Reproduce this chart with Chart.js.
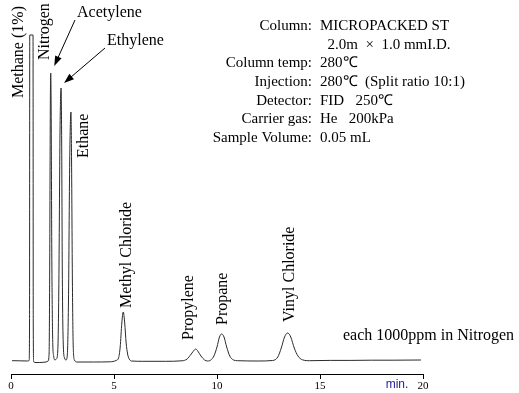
<!DOCTYPE html>
<html>
<head>
<meta charset="utf-8">
<script src="https://cdn.jsdelivr.net/npm/chart.js@4.4.1/dist/chart.umd.min.js"></script>
<style>
html, body { margin: 0; padding: 0; background: #fff; }
#wrap { width: 519px; height: 393px; }
</style>
</head>
<body>
<div id="wrap"><canvas id="chromChart" width="519" height="393"></canvas></div>
<script>
// chromatogram trace (time in min, response above baseline)
const traceTime = [
    0.05, 0.40, 0.80, 0.88, 0.90, 0.91, 1.07, 1.08, 1.10, 1.15, 1.40, 1.70,
    1.80, 1.85, 1.88, 1.91, 1.93, 1.95, 1.98, 2.02, 2.07, 2.14,
    2.20, 2.27, 2.32, 2.38, 2.43, 2.46, 2.49, 2.54, 2.60, 2.67,
    2.73, 2.79, 2.85, 2.91, 2.94, 2.98, 3.02, 3.08, 3.20, 4.00, 4.80,
    5.10, 5.22, 5.30, 5.38, 5.45, 5.52, 5.59, 5.66, 5.74, 5.85, 6.40, 7.50,
    8.30, 8.55, 8.75, 8.92, 8.97, 9.05, 9.22, 9.40, 9.55,
    9.70, 9.85, 10.00, 10.12, 10.23, 10.34, 10.47, 10.62, 10.80, 11.00, 12.00,
    12.70, 12.95, 13.12, 13.28, 13.43, 13.58, 13.75, 13.93, 14.15, 14.50,
    15.50, 16.50, 17.50, 18.50, 19.90
];
const traceSignal = [
    0.3, 0.2, 0.0, 0.5, 40, 326, 326, 40, 0, -1.5, -1.5, -1.0,
    0, 8, 100, 260, 288, 250, 110, 25, 5, 1,
    2, 10, 70, 230, 273, 220, 90, 15, 3, 1,
    5, 60, 200, 249, 200, 80, 15, 1, -1.0, -1.0, -0.8,
    0.5, 3, 14, 38, 49, 38, 18, 7, 2, 0, -0.3, -0.3,
    0.2, 2, 7, 11.5, 12, 10.5, 5, 1, 0,
    1, 5, 14, 24, 27, 24, 14, 5, 1, 0.3, 0,
    0.5, 4, 13, 24, 28, 24, 13, 5, 1.2, 0.3,
    0.6, 0.6, 0.8, 0.8, 1.0
];

const peakNames = ['Methane (1%)', 'Nitrogen', 'Acetylene', 'Ethylene', 'Ethane',
    'Methyl Chloride', 'Propylene', 'Propane', 'Vinyl Chloride'];
const peakTimes = [1.0, 1.93, 1.93, 2.43, 2.91, 5.45, 8.97, 10.23, 13.43];
const peakHeights = [326, 288, 288, 273, 249, 49, 12, 27, 28];

const xTicks = [0, 5, 10, 15, 20];

const conditionLabels = ['Column:', '', 'Column temp:', 'Injection:', 'Detector:', 'Carrier gas:', 'Sample Volume:'];
const conditionValues = ['MICROPACKED ST', '  2.0m  \u00d7  1.0 mmI.D.', '280\u2103', '280\u2103  (Split ratio 10:1)',
    'FID   250\u2103', 'He   200kPa', '0.05 mL'];
const sampleNote = 'each 1000ppm in Nitrogen';

// where the rotated names sit, relative to each apex (px)
const rotatedLabels = [
    { name: 'Methane (1%)', dx: -13, dy: 63 },
    { name: 'Nitrogen', dx: -6, dy: -13 },
    { name: 'Ethane', dx: 13, dy: 46 },
    { name: 'Methyl Chloride', dx: 4, dy: -4 },
    { name: 'Propylene', dx: -7, dy: -9 },
    { name: 'Propane', dx: 1, dy: -9 },
    { name: 'Vinyl Chloride', dx: 2, dy: -11 }
];
// names with an arrow: text spot and arrow start are absolute, tip is relative to apex
const arrowLabels = [
    { name: 'Acetylene', tx: 77, ty: 13, sx: 75, sy: 20, dx: 3.5, dy: -7 },
    { name: 'Ethylene', tx: 107, ty: 41, sx: 105, sy: 48, dx: 3, dy: -5 }
];

function drawArrow(ctx, x0, y0, x1, y1) {
    const ang = Math.atan2(y1 - y0, x1 - x0);
    const len = 10, half = 3.5;
    ctx.beginPath();
    ctx.moveTo(x0, y0);
    ctx.lineTo(x1 - Math.cos(ang) * len * 0.8, y1 - Math.sin(ang) * len * 0.8);
    ctx.stroke();
    ctx.beginPath();
    ctx.moveTo(x1, y1);
    ctx.lineTo(x1 - Math.cos(ang) * len + Math.sin(ang) * half, y1 - Math.sin(ang) * len - Math.cos(ang) * half);
    ctx.lineTo(x1 - Math.cos(ang) * len - Math.sin(ang) * half, y1 - Math.sin(ang) * len + Math.cos(ang) * half);
    ctx.closePath();
    ctx.fill();
}

const annotations = {
    id: 'annotations',
    afterDraw(chart) {
        const { ctx, scales: { x, y } } = chart;
        ctx.save();
        ctx.fillStyle = '#000';
        ctx.strokeStyle = '#000';
        ctx.lineWidth = 1;
        ctx.font = '16px "Liberation Serif", serif';
        ctx.textBaseline = 'middle';

        rotatedLabels.forEach(lab => {
            const i = peakNames.indexOf(lab.name);
            const px = x.getPixelForValue(peakTimes[i]) + lab.dx;
            const py = y.getPixelForValue(peakHeights[i]) + lab.dy;
            ctx.save();
            ctx.translate(px, py);
            ctx.rotate(-Math.PI / 2);
            ctx.textAlign = 'left';
            ctx.fillText(lab.name, 0, 0);
            ctx.restore();
        });

        arrowLabels.forEach(lab => {
            const i = peakNames.indexOf(lab.name);
            ctx.textAlign = 'left';
            ctx.fillText(lab.name, lab.tx, lab.ty);
            const tipX = x.getPixelForValue(peakTimes[i]) + lab.dx;
            const tipY = y.getPixelForValue(peakHeights[i]) + lab.dy;
            drawArrow(ctx, lab.sx, lab.sy, tipX, tipY);
        });

        // sample note
        ctx.textAlign = 'left';
        ctx.fillText(sampleNote, 343, 336);

        // analysis conditions
        ctx.font = '15px "Liberation Serif", serif';
        conditionLabels.forEach((lbl, i) => {
            const rowY = 26 + i * 18.7;
            ctx.textAlign = 'right';
            if (lbl) ctx.fillText(lbl, 312, rowY);
            ctx.textAlign = 'left';
            ctx.fillText(conditionValues[i], 320, rowY);
        });

        // axis unit
        ctx.fillStyle = '#22229a';
        ctx.font = '12px "Liberation Sans", sans-serif';
        ctx.textAlign = 'center';
        ctx.fillText('min.', 397, 385);
        ctx.restore();
    }
};

new Chart(document.getElementById('chromChart'), {
    type: 'line',
    data: {
        datasets: [{
            data: traceTime.map((t, i) => ({ x: t, y: traceSignal[i] })),
            borderColor: '#2a2a2a',
            borderWidth: 1,
            pointRadius: 0,
            cubicInterpolationMode: 'monotone',
            fill: false
        }]
    },
    options: {
        responsive: false,
        animation: false,
        devicePixelRatio: 1,
        layout: { padding: { left: 11, right: 96, top: 0, bottom: 0 } },
        plugins: {
            legend: { display: false },
            tooltip: { enabled: false }
        },
        scales: {
            x: {
                type: 'linear',
                min: 0,
                max: 20,
                afterBuildTicks: (scale) => { scale.ticks = xTicks.map(v => ({ value: v })); },
                afterFit: (scale) => { scale.height = 19; },
                grid: {
                    drawOnChartArea: false,
                    drawTicks: true,
                    tickLength: 5,
                    color: '#000'
                },
                border: { display: true, color: '#000', width: 1 },
                ticks: {
                    padding: 1,
                    color: '#000',
                    maxRotation: 0,
                    font: { family: '"Liberation Serif", serif', size: 11 }
                }
            },
            y: {
                display: false,
                min: -13,
                max: 361
            }
        }
    },
    plugins: [annotations]
});
</script>
</body>
</html>
